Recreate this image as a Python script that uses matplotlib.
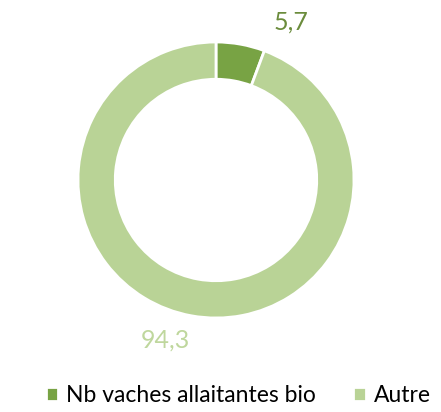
import matplotlib.pyplot as plt

# donut data
labels = ['Nb vaches allaitantes bio', 'Autre']
values = [5.7, 94.3]
value_labels = ['5,7', '94,3']
colors = ['#78a344', '#b9d396']
text_colors = ['#6b8c3c', '#bfd79d']

plt.rcParams['font.family'] = ['Lato', 'DejaVu Sans']

fig = plt.figure(figsize=(4.41, 4.12), dpi=100)
# axes positioned so the ring centre sits at ~(216, 180) px, radius ~138 px
W, H = 441, 412
cx, cy, r = 216, 180, 138
ax = fig.add_axes([(cx - r) / W, 1 - (cy + r) / H, 2 * r / W, 2 * r / H])

wedges, _ = ax.pie(values, colors=colors, startangle=90, counterclock=False,
                   radius=1.0, wedgeprops=dict(width=0.27, edgecolor='white', linewidth=2))
ax.set_xlim(-1, 1)
ax.set_ylim(-1, 1)
ax.set_aspect('equal')
ax.axis('off')

# value labels
fig.text(291 / W, 1 - 22 / H, value_labels[0], color=text_colors[0], fontsize=18,
         ha='center', va='center')
fig.text(165 / W, 1 - 340 / H, value_labels[1], color=text_colors[1], fontsize=18,
         ha='center', va='center')

# legend
leg = fig.legend(wedges, labels, loc='center', bbox_to_anchor=(0.54, 1 - 396 / H),
                 ncol=2, frameon=False, fontsize=16.5, handlelength=0.55, handleheight=0.55,
                 handletextpad=0.35, columnspacing=1.6, borderpad=0)

plt.savefig('out.png', dpi=100)
